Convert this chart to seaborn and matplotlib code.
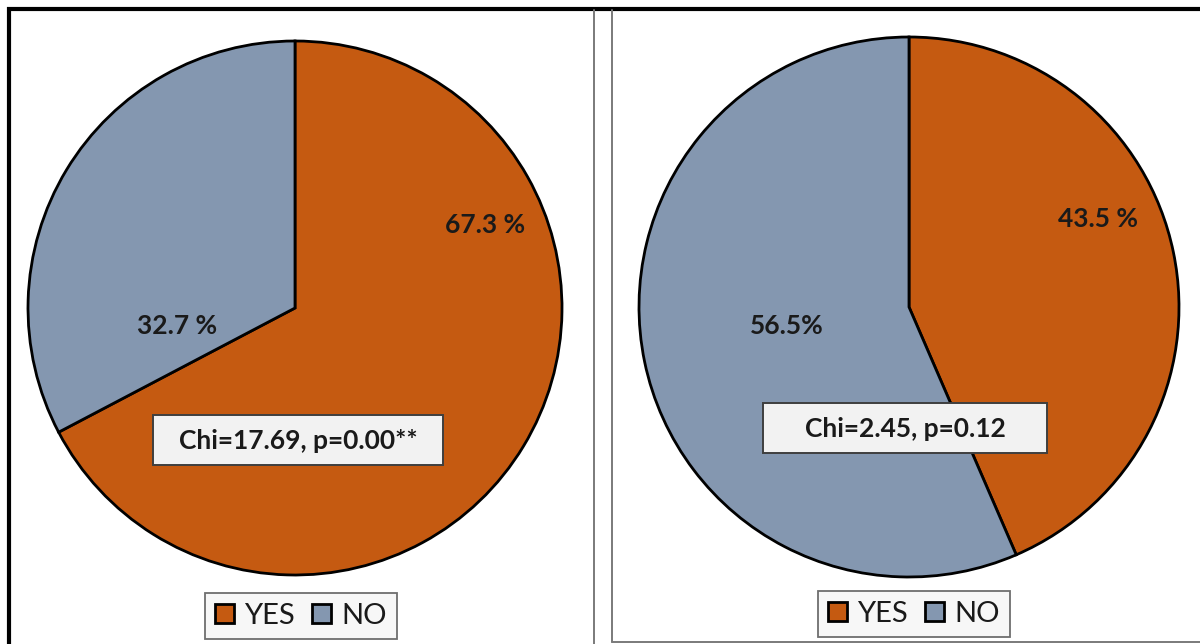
import matplotlib
matplotlib.use("Agg")
import matplotlib.pyplot as plt
from matplotlib import font_manager
from matplotlib.patches import Rectangle
import seaborn as sns

# --- data -------------------------------------------------------------
categories = ["YES", "NO"]
pct_left = [67.3, 32.7]
pct_right = [43.5, 56.5]
labels_left = [f"{pct_left[0]:.1f} %", f"{pct_left[1]:.1f} %"]
labels_right = [f"{pct_right[0]:.1f} %", f"{pct_right[1]:.1f}%"]
stats_left = "Chi=17.69, p=0.00**"
stats_right = "Chi=2.45, p=0.12"

# --- style ------------------------------------------------------------
sns.set_theme(style="white")
available = {f.name for f in font_manager.fontManager.ttflist}
family = [f for f in ["Lato", "Open Sans", "DejaVu Sans"] if f in available]
plt.rcParams["font.family"] = family
palette = sns.color_palette(["#C55A11", "#8497B0"])
text_color = "#1a1a1a"

W, H = 1200, 644
fig = plt.figure(figsize=(W / 100, H / 100), dpi=100)
fig.patch.set_facecolor("white")


def px_axes(cx, cy, r):
    """Square axes centred at pixel (cx, cy) with half-size r pixels."""
    return fig.add_axes([(cx - r) / W, (H - cy - r) / H, 2 * r / W, 2 * r / H])


def draw_pie(ax, values, labels, label_pos):
    wedges, _ = ax.pie(
        values,
        colors=palette,
        startangle=90,
        counterclock=False,
        radius=1.0,
        wedgeprops=dict(edgecolor="black", linewidth=2.0, clip_on=False),
    )
    for txt, (x, y) in zip(labels, label_pos):
        ax.text(x, y, txt, ha="center", va="center", fontsize=19,
                fontweight="bold", color=text_color)
    ax.set_xlim(-1, 1)
    ax.set_ylim(-1, 1)
    ax.set_aspect("equal")
    ax.axis("off")
    return wedges


ax_l = px_axes(295, 308, 267)
wedges_l = draw_pie(ax_l, pct_left, labels_left, [(0.712, 0.311), (-0.442, -0.067)])

ax_r = px_axes(909, 307, 270)
wedges_r = draw_pie(ax_r, pct_right, labels_right, [(0.70, 0.326), (-0.452, -0.07)])

# --- overlay in pixel coordinates: frames and statistic boxes ----------
ov = fig.add_axes([0, 0, 1, 1])
ov.set_xlim(0, W)
ov.set_ylim(H, 0)
ov.axis("off")
ov.set_zorder(5)
ov.patch.set_alpha(0)

# outer frame of the left panel and top rule
ov.plot([7, W], [8.5, 8.5], color="black", lw=3.0, solid_capstyle="butt")
ov.plot([8.5, 8.5], [7, H], color="black", lw=3.0, solid_capstyle="butt")
# thin panel separators
ov.plot([594, 594], [10, H], color="#7a7a7a", lw=1.4)
ov.plot([612, 612], [10, 642], color="#7a7a7a", lw=1.4)
ov.plot([612, W], [642, 642], color="#7a7a7a", lw=1.4)


def stat_box(x0, y0, x1, y1, text):
    ov.add_patch(Rectangle((x0, y0), x1 - x0, y1 - y0, facecolor="#f2f2f2",
                           edgecolor="#3f3f3f", lw=1.4, zorder=3))
    ov.text((x0 + x1) / 2, (y0 + y1) / 2 + 1, text, ha="center", va="center",
            fontsize=19, fontweight="bold", color=text_color, zorder=4)


stat_box(153, 415, 443, 465, stats_left)
stat_box(763, 403, 1047, 453, stats_right)

# --- legends -----------------------------------------------------------
for wedges, cx, cy in [(wedges_l, 301, 616), (wedges_r, 914, 614)]:
    leg = fig.legend(
        wedges, categories,
        loc="center", bbox_to_anchor=(cx / W, 1 - cy / H),
        ncol=2, fontsize=21, frameon=True, fancybox=False,
        handlelength=0.65, handleheight=0.65, handletextpad=0.35,
        columnspacing=0.6, borderpad=0.35, labelcolor=text_color,
    )
    frame = leg.get_frame()
    frame.set_edgecolor("#6e6e6e")
    frame.set_facecolor("#f7f7f7")
    frame.set_linewidth(1.3)
    frame.set_alpha(1)

fig.savefig("out.png", dpi=100)
